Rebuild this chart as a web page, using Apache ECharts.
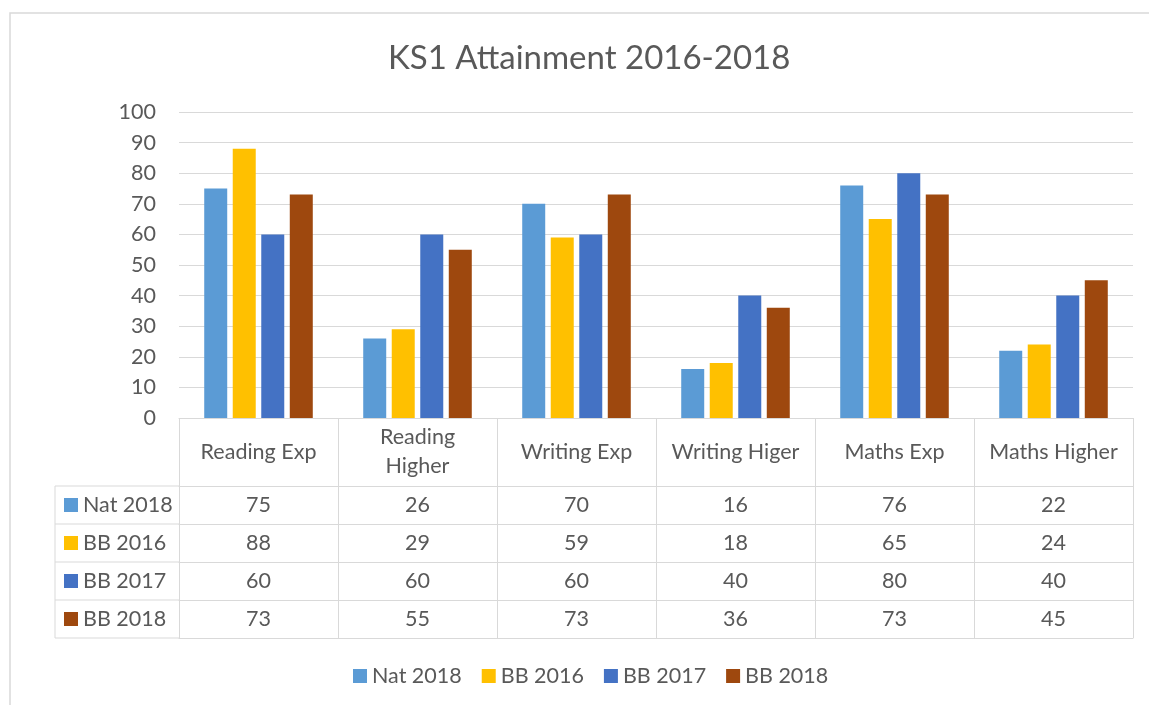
<!DOCTYPE html>
<html>
<head>
<meta charset="utf-8">
<script src="https://cdn.jsdelivr.net/npm/echarts@6/dist/echarts.min.js"></script>
<style>
  html, body { margin: 0; padding: 0; background: #fff; }
  #chart { width: 1149px; height: 705px; }
</style>
</head>
<body>
<div id="chart"></div>
<script>
// chart data
const categories = ['Reading Exp', 'Reading\nHigher', 'Writing Exp', 'Writing Higer', 'Maths Exp', 'Maths Higher'];
const seriesNames = ['Nat 2018', 'BB 2016', 'BB 2017', 'BB 2018'];
const nat2018 = [75, 26, 70, 16, 76, 22];
const bb2016 = [88, 29, 59, 18, 65, 24];
const bb2017 = [60, 60, 60, 40, 80, 40];
const bb2018 = [73, 55, 73, 36, 73, 45];
const yTicks = [0, 10, 20, 30, 40, 50, 60, 70, 80, 90, 100];

const seriesValues = [nat2018, bb2016, bb2017, bb2018];
const colors = ['#5B9BD5', '#FFC000', '#4472C4', '#9E480E'];
const textColor = '#595959';
const lineColor = '#d9d9d9';
const font = 'Lato, "Open Sans", sans-serif';
const fontSize = 21.5;

// layout of the plot + data table
const gridLeft = 179, gridRight = 16, gridTop = 112, gridBottom = 287;
const tableLeft = 55;
const headerH = 68, rowH = 38;
const baseY = 705 - gridBottom;

// one extra x axis per table row, its line is the row's top border
const tableAxes = [];
for (let i = 0; i <= seriesValues.length; i++) {
  const row = seriesValues[i];
  const axis = {
    type: 'category',
    gridIndex: 0,
    position: 'bottom',
    offset: headerH + rowH * i,
    data: row ? row.map(String) : categories.map(() => ''),
    axisLine: { show: true, lineStyle: { color: lineColor, width: 1 } },
    axisTick: { show: false },
    axisLabel: {
      show: !!row,
      color: textColor,
      fontFamily: font,
      fontSize: fontSize,
      verticalAlign: 'middle',
      margin: rowH / 2
    }
  };
  if (row) {
    axis.name = '{sq|}{t|' + seriesNames[i] + '}';
    axis.nameLocation = 'start';
    axis.nameGap = gridLeft - tableLeft - 9;
    axis.nameMoveOverlap = false;
    axis.nameTextStyle = {
      align: 'left',
      verticalAlign: 'middle',
      padding: [rowH, 0, 0, 0],
      rich: {
        sq: { width: 14, height: 14, backgroundColor: colors[i] },
        t: { color: textColor, fontFamily: font, fontSize: fontSize, padding: [0, 0, 0, 5] }
      }
    };
  }
  tableAxes.push(axis);
}

// left column borders of the table
const tableBottom = baseY + headerH + rowH * seriesValues.length;
const leftLines = [];
for (let i = 0; i <= seriesValues.length; i++) {
  const y = baseY + headerH + rowH * i;
  leftLines.push({ type: 'line', shape: { x1: tableLeft, y1: y, x2: gridLeft, y2: y }, style: { stroke: lineColor, lineWidth: 1 } });
}
leftLines.push({ type: 'line', shape: { x1: tableLeft, y1: baseY + headerH, x2: tableLeft, y2: tableBottom }, style: { stroke: lineColor, lineWidth: 1 } });

const chart = echarts.init(document.getElementById('chart'));

chart.setOption({
  animation: false,
  backgroundColor: '#fff',
  color: colors,
  title: {
    text: 'KS1 Attainment 2016-2018',
    left: 383,
    top: 37,
    textStyle: { color: textColor, fontFamily: font, fontSize: 33, fontWeight: 'normal' }
  },
  legend: {
    data: seriesNames,
    left: 348,
    top: 660,
    icon: 'rect',
    itemWidth: 14,
    itemHeight: 14,
    itemGap: 20,
    textStyle: { color: textColor, fontFamily: font, fontSize: fontSize }
  },
  grid: { left: gridLeft, right: gridRight, top: gridTop, bottom: gridBottom, containLabel: false },
  xAxis: [{
    type: 'category',
    data: categories,
    axisLine: { show: true, lineStyle: { color: lineColor, width: 1 } },
    axisTick: { show: true, length: headerH + rowH * seriesValues.length, lineStyle: { color: lineColor, width: 1 } },
    axisLabel: {
      color: textColor,
      fontFamily: font,
      fontSize: fontSize,
      lineHeight: 29,
      verticalAlign: 'middle',
      margin: headerH / 2,
      interval: 0
    }
  }].concat(tableAxes),
  yAxis: {
    type: 'value',
    min: yTicks[0],
    max: yTicks[yTicks.length - 1],
    interval: 10,
    axisLine: { show: false },
    axisTick: { show: false },
    axisLabel: { color: textColor, fontFamily: font, fontSize: fontSize, margin: 23 },
    splitLine: { lineStyle: { color: lineColor, width: 1 } }
  },
  series: seriesNames.map((name, i) => ({
    name: name,
    type: 'bar',
    xAxisIndex: 0,
    barWidth: 23,
    barGap: '24%',
    data: seriesValues[i]
  })),
  graphic: [
    { type: 'rect', silent: true, shape: { x: 10, y: 13, width: 1300, height: 900 }, style: { fill: 'none', stroke: lineColor, lineWidth: 1.5 } }
  ].concat(leftLines)
});

window.addEventListener('resize', function () {
  chart.resize();
});
</script>
</body>
</html>
